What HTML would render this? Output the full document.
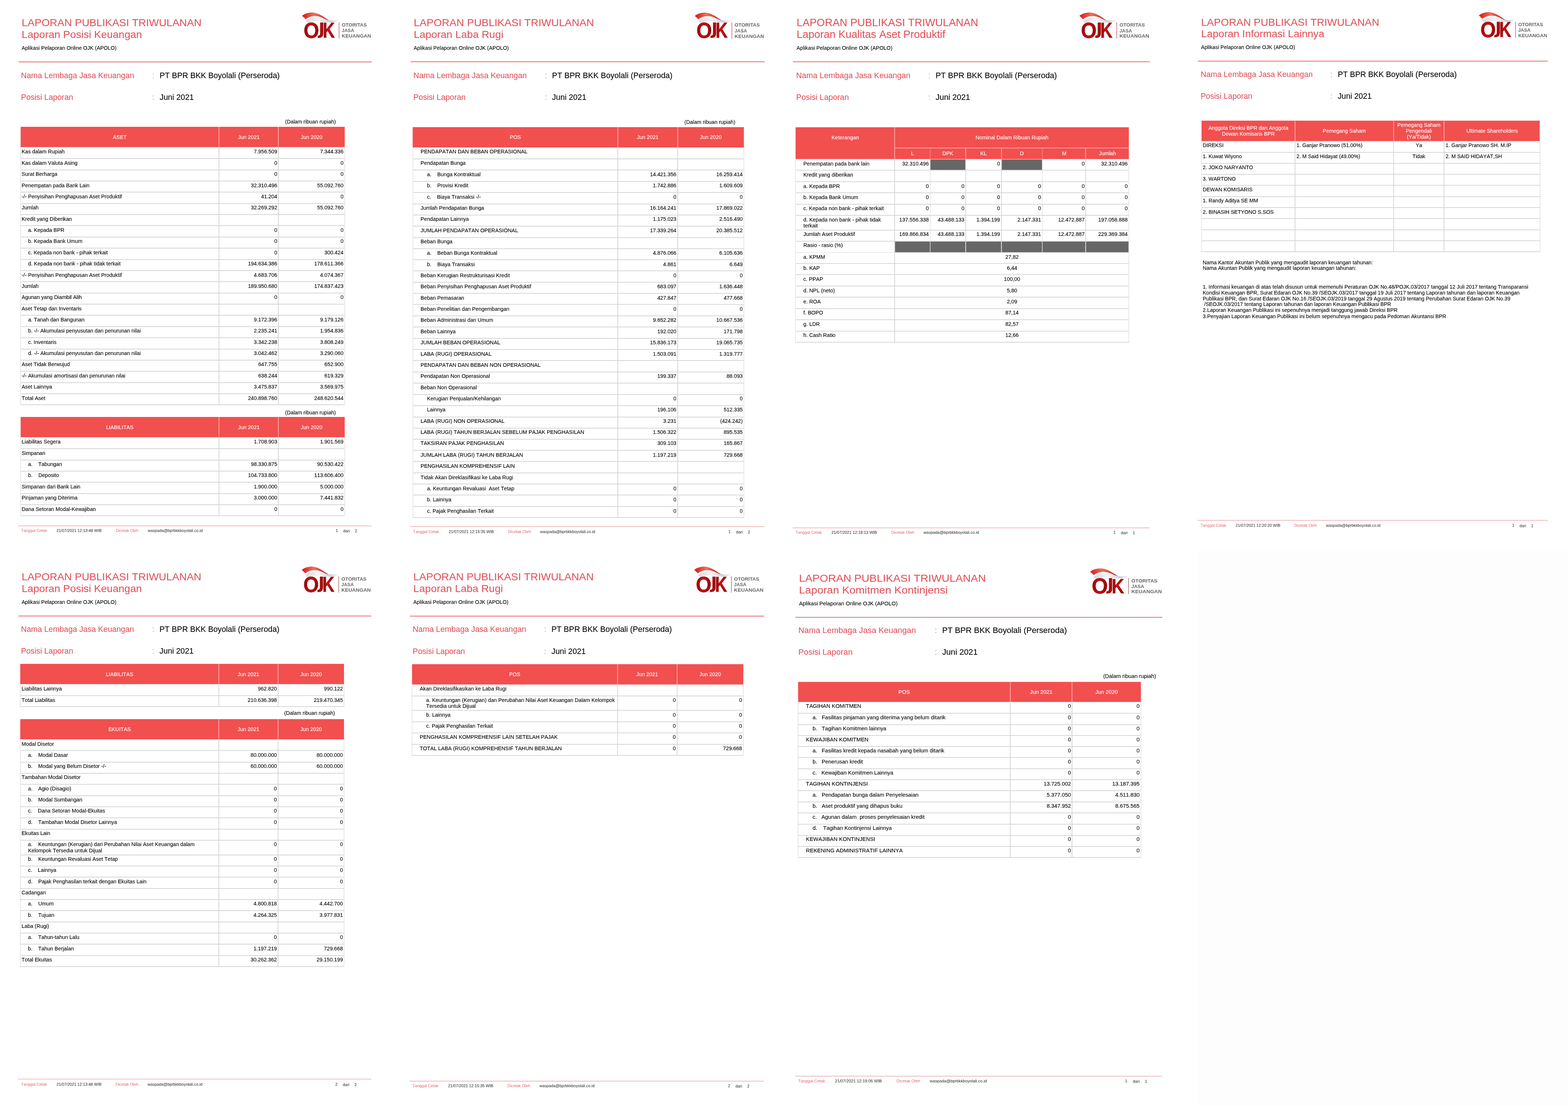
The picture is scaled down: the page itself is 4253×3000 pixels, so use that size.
<!DOCTYPE html>
<html lang="id"><head><meta charset="utf-8"><title>Laporan Publikasi Triwulanan</title>
<style>
html,body{margin:0;padding:0;background:#fff;width:4253px;height:3000px}
body{position:relative;overflow:hidden;font-family:"Liberation Sans",sans-serif}
.p{position:absolute;left:0;top:0;width:1020px;height:1460px;transform-origin:0 0}
.p div,.logo{position:absolute}
.t{white-space:pre;line-height:1em;color:#000;font-kerning:none;font-variant-ligatures:none;-webkit-text-stroke:0.12px currentColor}
.r{width:400px;text-align:right}
.c{width:400px;text-align:center}
.h1{font-size:28.5px;color:#e2535b}
.lb{font-size:21.4px;color:#e2535b}
.v{font-size:21.4px;color:#000}
.s8{font-size:14.25px}
.th{font-size:14.25px;color:#fff}
.f6{font-size:10.8px;color:#1c1c1c;-webkit-text-stroke:0}
.cl{color:#e8949a}
.f6.fr{color:#e0666d}
</style></head>
<body>
<div class="bg" style="position:absolute;left:3247px;top:1495px;width:1006px;height:1505px;background:#fdfdfd"></div>
<section class="p" style="transform:matrix(1,0,0,1,0,0)">
<div class="t h1" style="left:58.8px;top:46.57px">LAPORAN PUBLIKASI TRIWULANAN</div>
<div class="t h1" style="left:58.8px;top:79.07px">Laporan Posisi Keuangan</div>
<div class="t s8" style="left:58.7px;top:122.84px">Aplikasi Pelaporan Online OJK (APOLO)</div>
<svg class="logo" style="left:818px;top:21px" width="200" height="100" viewBox="0 0 200 100">
<defs>
<linearGradient id="gr1" x1="0" y1="0" x2="1" y2="0"><stop offset="0" stop-color="#d81818"/><stop offset=".45" stop-color="#f0705a"/><stop offset="1" stop-color="#c41a1a"/></linearGradient>
<linearGradient id="gs1" x1="0" y1="0" x2="1" y2="0"><stop offset="0" stop-color="#d9d9dc"/><stop offset=".4" stop-color="#f4f4f6"/><stop offset=".75" stop-color="#cfd3da"/><stop offset="1" stop-color="#f2f2f2"/></linearGradient>
<linearGradient id="gl1" x1="0" y1="0" x2="1" y2="0"><stop offset="0" stop-color="#8e0b0d"/><stop offset=".5" stop-color="#c81015"/><stop offset="1" stop-color="#860a0c"/></linearGradient>
</defs>
<path d="M11 36 C20 28.5 31 26 40 26.5 C50 27 62 30 73 32.5 C85 35 93 35 101 32.5 C96 37.5 88 40.5 80 40.5 C68 40.5 55 37 42 37 C32 37 25 41 21 47 C18 43 14 39 11 36 Z" fill="url(#gs1)"/>
<path d="M1.2 22 C11 14 24 12 34 13.5 C49 16 61 25.5 74 34.5 C63 31.5 55 25 43 23 C31 21 20 24 10.7 31.2 C8 28 5 25 1.2 22 Z" fill="url(#gr1)"/>
<text x="5.6" y="81.8" font-family="Liberation Sans, sans-serif" font-weight="700" font-size="59.5" fill="url(#gl1)" stroke="#a30e10" stroke-width="0.8" textLength="42.1" lengthAdjust="spacingAndGlyphs">O</text>
<text x="46.3" y="73" font-family="DejaVu Sans, sans-serif" font-weight="700" font-size="45" fill="#a60e11">J</text>
<text x="57.5" y="80.9" font-family="Liberation Sans, sans-serif" font-weight="700" font-size="57" fill="url(#gl1)" stroke="#a30e10" stroke-width="0.8" textLength="32.6" lengthAdjust="spacingAndGlyphs">K</text>
<rect x="100.9" y="39.2" width="1.4" height="44.2" fill="#a85a5c"/>
<g font-family="Liberation Sans, sans-serif" font-weight="700" font-size="12.7" fill="#666">
<text x="109" y="51.1" textLength="68" lengthAdjust="spacingAndGlyphs">OTORITAS</text>
<text x="109" y="66.3" textLength="33.5" lengthAdjust="spacingAndGlyphs">JASA</text>
<text x="109" y="81.2" textLength="79.5" lengthAdjust="spacingAndGlyphs">KEUANGAN</text>
</g></svg>
<div class="g" style="left:50px;top:167px;width:958.2px;height:2px;background:#e5656b"></div>
<div class="t lb" style="left:57px;top:194.68px">Nama Lembaga Jasa Keuangan</div>
<div class="t lb cl" style="left:412.6px;top:194.68px">:</div>
<div class="t v" style="left:433px;top:194.68px">PT BPR BKK Boyolali (Perseroda)</div>
<div class="t lb" style="left:57px;top:254.18px">Posisi Laporan</div>
<div class="t lb cl" style="left:412.6px;top:254.18px">:</div>
<div class="t v" style="left:433px;top:254.18px">Juni 2021</div>
<div class="t s8 r" style="left:511px;top:322.64px">(Dalam ribuan rupiah)</div>
<div class="b" style="left:55.6px;top:343.9px;width:879.4px;height:55.4px;background:#f24f4f"></div>
<div class="t th c" style="left:124.9px;top:364.64px">ASET</div>
<div class="t th c" style="left:474.75px;top:364.64px">Jun 2021</div>
<div class="t th c" style="left:645.15px;top:364.64px">Jun 2020</div>
<div class="g" style="left:593px;top:343.9px;width:2px;height:55.4px;background:#fbaaa7"></div>
<div class="g" style="left:754px;top:343.9px;width:2px;height:55.4px;background:#fbaaa7"></div>
<div class="t s8" style="left:58.8px;top:403.84px">Kas dalam Rupiah</div>
<div class="t s8 r" style="left:351.9px;top:403.84px">7.956.509</div>
<div class="t s8 r" style="left:531.6px;top:403.84px">7.344.336</div>
<div class="t s8" style="left:58.8px;top:434.81px">Kas dalam Valuta Asing</div>
<div class="t s8 r" style="left:351.9px;top:434.81px">0</div>
<div class="t s8 r" style="left:531.6px;top:434.81px">0</div>
<div class="t s8" style="left:58.8px;top:465.18px">Surat Berharga</div>
<div class="t s8 r" style="left:351.9px;top:465.18px">0</div>
<div class="t s8 r" style="left:531.6px;top:465.18px">0</div>
<div class="t s8" style="left:58.8px;top:495.55px">Penempatan pada Bank Lain</div>
<div class="t s8 r" style="left:351.9px;top:495.55px">32.310.496</div>
<div class="t s8 r" style="left:531.6px;top:495.55px">55.092.760</div>
<div class="t s8" style="left:58.8px;top:525.92px">-/- Penyisihan Penghapusan Aset Produktif</div>
<div class="t s8 r" style="left:351.9px;top:525.92px">41.204</div>
<div class="t s8 r" style="left:531.6px;top:525.92px">0</div>
<div class="t s8" style="left:58.8px;top:556.29px">Jumlah</div>
<div class="t s8 r" style="left:351.9px;top:556.29px">32.269.292</div>
<div class="t s8 r" style="left:531.6px;top:556.29px">55.092.760</div>
<div class="t s8" style="left:58.8px;top:586.66px">Kredit yang Diberikan</div>
<div class="t s8" style="left:76.2px;top:617.03px">a. Kepada BPR</div>
<div class="t s8 r" style="left:351.9px;top:617.03px">0</div>
<div class="t s8 r" style="left:531.6px;top:617.03px">0</div>
<div class="t s8" style="left:76.2px;top:647.4px">b. Kepada Bank Umum</div>
<div class="t s8 r" style="left:351.9px;top:647.4px">0</div>
<div class="t s8 r" style="left:531.6px;top:647.4px">0</div>
<div class="t s8" style="left:76.2px;top:677.77px">c. Kepada non bank - pihak terkait</div>
<div class="t s8 r" style="left:351.9px;top:677.77px">0</div>
<div class="t s8 r" style="left:531.6px;top:677.77px">300.424</div>
<div class="t s8" style="left:76.2px;top:708.14px">d. Kepada non bank - pihak tidak terkait</div>
<div class="t s8 r" style="left:351.9px;top:708.14px">194.634.386</div>
<div class="t s8 r" style="left:531.6px;top:708.14px">178.611.366</div>
<div class="t s8" style="left:58.8px;top:738.51px">-/- Penyisihan Penghapusan Aset Produktif</div>
<div class="t s8 r" style="left:351.9px;top:738.51px">4.683.706</div>
<div class="t s8 r" style="left:531.6px;top:738.51px">4.074.367</div>
<div class="t s8" style="left:58.8px;top:768.88px">Jumlah</div>
<div class="t s8 r" style="left:351.9px;top:768.88px">189.950.680</div>
<div class="t s8 r" style="left:531.6px;top:768.88px">174.837.423</div>
<div class="t s8" style="left:58.8px;top:799.25px">Agunan yang Diambil Alih</div>
<div class="t s8 r" style="left:351.9px;top:799.25px">0</div>
<div class="t s8 r" style="left:531.6px;top:799.25px">0</div>
<div class="t s8" style="left:58.8px;top:829.62px">Aset Tetap dan Inventaris</div>
<div class="t s8" style="left:76.2px;top:859.99px">a. Tanah dan Bangunan</div>
<div class="t s8 r" style="left:351.9px;top:859.99px">9.172.396</div>
<div class="t s8 r" style="left:531.6px;top:859.99px">9.179.126</div>
<div class="t s8" style="left:76.2px;top:890.36px">b. -/- Akumulasi penyusutan dan penurunan nilai</div>
<div class="t s8 r" style="left:351.9px;top:890.36px">2.235.241</div>
<div class="t s8 r" style="left:531.6px;top:890.36px">1.954.836</div>
<div class="t s8" style="left:76.2px;top:920.73px">c. Inventaris</div>
<div class="t s8 r" style="left:351.9px;top:920.73px">3.342.238</div>
<div class="t s8 r" style="left:531.6px;top:920.73px">3.808.249</div>
<div class="t s8" style="left:76.2px;top:951.1px">d. -/- Akumulasi penyusutan dan penurunan nilai</div>
<div class="t s8 r" style="left:351.9px;top:951.1px">3.042.462</div>
<div class="t s8 r" style="left:531.6px;top:951.1px">3.290.060</div>
<div class="t s8" style="left:58.8px;top:981.47px">Aset Tidak Berwujud</div>
<div class="t s8 r" style="left:351.9px;top:981.47px">647.755</div>
<div class="t s8 r" style="left:531.6px;top:981.47px">652.900</div>
<div class="t s8" style="left:58.8px;top:1011.84px">-/- Akumulasi amortisasi dan penurunan nilai</div>
<div class="t s8 r" style="left:351.9px;top:1011.84px">638.244</div>
<div class="t s8 r" style="left:531.6px;top:1011.84px">619.329</div>
<div class="t s8" style="left:58.8px;top:1042.21px">Aset Lainnya</div>
<div class="t s8 r" style="left:351.9px;top:1042.21px">3.475.837</div>
<div class="t s8 r" style="left:531.6px;top:1042.21px">3.569.975</div>
<div class="t s8" style="left:58.8px;top:1072.58px">Total Aset</div>
<div class="t s8 r" style="left:351.9px;top:1072.58px">240.898.760</div>
<div class="t s8 r" style="left:531.6px;top:1072.58px">248.620.544</div>
<div class="g" style="left:55px;top:429px;width:881px;height:2px;background:#d4d4d4"></div>
<div class="g" style="left:55px;top:460px;width:881px;height:2px;background:#d4d4d4"></div>
<div class="g" style="left:55px;top:490px;width:881px;height:2px;background:#d4d4d4"></div>
<div class="g" style="left:55px;top:520px;width:881px;height:2px;background:#d4d4d4"></div>
<div class="g" style="left:55px;top:551px;width:881px;height:2px;background:#d4d4d4"></div>
<div class="g" style="left:55px;top:581px;width:881px;height:2px;background:#d4d4d4"></div>
<div class="g" style="left:55px;top:611px;width:881px;height:2px;background:#d4d4d4"></div>
<div class="g" style="left:55px;top:642px;width:881px;height:2px;background:#d4d4d4"></div>
<div class="g" style="left:55px;top:672px;width:881px;height:2px;background:#d4d4d4"></div>
<div class="g" style="left:55px;top:703px;width:881px;height:2px;background:#d4d4d4"></div>
<div class="g" style="left:55px;top:733px;width:881px;height:2px;background:#d4d4d4"></div>
<div class="g" style="left:55px;top:763px;width:881px;height:2px;background:#d4d4d4"></div>
<div class="g" style="left:55px;top:794px;width:881px;height:2px;background:#d4d4d4"></div>
<div class="g" style="left:55px;top:824px;width:881px;height:2px;background:#d4d4d4"></div>
<div class="g" style="left:55px;top:854px;width:881px;height:2px;background:#d4d4d4"></div>
<div class="g" style="left:55px;top:885px;width:881px;height:2px;background:#d4d4d4"></div>
<div class="g" style="left:55px;top:915px;width:881px;height:2px;background:#d4d4d4"></div>
<div class="g" style="left:55px;top:946px;width:881px;height:2px;background:#d4d4d4"></div>
<div class="g" style="left:55px;top:976px;width:881px;height:2px;background:#d4d4d4"></div>
<div class="g" style="left:55px;top:1006px;width:881px;height:2px;background:#d4d4d4"></div>
<div class="g" style="left:55px;top:1037px;width:881px;height:2px;background:#d4d4d4"></div>
<div class="g" style="left:55px;top:1067px;width:881px;height:2px;background:#d4d4d4"></div>
<div class="g" style="left:55px;top:1097px;width:881px;height:2px;background:#d4d4d4"></div>
<div class="g" style="left:55px;top:399.3px;width:2px;height:699.7px;background:#e6e6e6"></div>
<div class="g" style="left:593px;top:399.3px;width:2px;height:698.7px;background:#d4d4d4"></div>
<div class="g" style="left:754px;top:399.3px;width:2px;height:698.7px;background:#d4d4d4"></div>
<div class="g" style="left:934px;top:399.3px;width:2px;height:699.7px;background:#e6e6e6"></div>
<div class="t s8 r" style="left:511px;top:1111.84px">(Dalam ribuan rupiah)</div>
<div class="b" style="left:55.6px;top:1130.8px;width:879.4px;height:55.4px;background:#f24f4f"></div>
<div class="t th c" style="left:124.9px;top:1151.54px">LIABILITAS</div>
<div class="t th c" style="left:474.75px;top:1151.54px">Jun 2021</div>
<div class="t th c" style="left:645.15px;top:1151.54px">Jun 2020</div>
<div class="g" style="left:593px;top:1130.8px;width:2px;height:55.4px;background:#fbaaa7"></div>
<div class="g" style="left:754px;top:1130.8px;width:2px;height:55.4px;background:#fbaaa7"></div>
<div class="t s8" style="left:58.8px;top:1190.74px">Liabilitas Segera</div>
<div class="t s8 r" style="left:351.9px;top:1190.74px">1.708.903</div>
<div class="t s8 r" style="left:531.6px;top:1190.74px">1.901.569</div>
<div class="t s8" style="left:58.8px;top:1221.71px">Simpanan</div>
<div class="t s8" style="left:76.2px;top:1252.08px">a.    Tabungan</div>
<div class="t s8 r" style="left:351.9px;top:1252.08px">98.330.875</div>
<div class="t s8 r" style="left:531.6px;top:1252.08px">90.530.422</div>
<div class="t s8" style="left:76.2px;top:1282.45px">b.    Deposito</div>
<div class="t s8 r" style="left:351.9px;top:1282.45px">104.733.800</div>
<div class="t s8 r" style="left:531.6px;top:1282.45px">113.606.400</div>
<div class="t s8" style="left:58.8px;top:1312.82px">Simpanan dari Bank Lain</div>
<div class="t s8 r" style="left:351.9px;top:1312.82px">1.900.000</div>
<div class="t s8 r" style="left:531.6px;top:1312.82px">5.000.000</div>
<div class="t s8" style="left:58.8px;top:1343.19px">Pinjaman yang Diterima</div>
<div class="t s8 r" style="left:351.9px;top:1343.19px">3.000.000</div>
<div class="t s8 r" style="left:531.6px;top:1343.19px">7.441.832</div>
<div class="t s8" style="left:58.8px;top:1373.56px">Dana Setoran Modal-Kewajiban</div>
<div class="t s8 r" style="left:351.9px;top:1373.56px">0</div>
<div class="t s8 r" style="left:531.6px;top:1373.56px">0</div>
<div class="g" style="left:55px;top:1216px;width:881px;height:2px;background:#d4d4d4"></div>
<div class="g" style="left:55px;top:1247px;width:881px;height:2px;background:#d4d4d4"></div>
<div class="g" style="left:55px;top:1277px;width:881px;height:2px;background:#d4d4d4"></div>
<div class="g" style="left:55px;top:1307px;width:881px;height:2px;background:#d4d4d4"></div>
<div class="g" style="left:55px;top:1338px;width:881px;height:2px;background:#d4d4d4"></div>
<div class="g" style="left:55px;top:1368px;width:881px;height:2px;background:#d4d4d4"></div>
<div class="g" style="left:55px;top:1398px;width:881px;height:2px;background:#d4d4d4"></div>
<div class="g" style="left:55px;top:1186.2px;width:2px;height:213.8px;background:#e6e6e6"></div>
<div class="g" style="left:593px;top:1186.2px;width:2px;height:212.8px;background:#d4d4d4"></div>
<div class="g" style="left:754px;top:1186.2px;width:2px;height:212.8px;background:#d4d4d4"></div>
<div class="g" style="left:934px;top:1186.2px;width:2px;height:213.8px;background:#e6e6e6"></div>
<div class="g" style="left:48.5px;top:1426px;width:959.7px;height:1px;background:#e4747a"></div>
<div class="t f6 fr" style="left:57.2px;top:1434.06px">Tanggal Cetak</div>
<div class="t f6" style="left:153.3px;top:1434.06px">21/07/2021 12:13:48 WIB</div>
<div class="t f6 fr" style="left:314px;top:1434.06px">Dicetak Oleh</div>
<div class="t f6" style="left:400.7px;top:1434.06px">waspada@bprbkkboyolali.co.id</div>
<div class="t f6" style="left:910.5px;top:1434.06px">1</div>
<div class="t f6" style="left:930.7px;top:1435.06px">dari</div>
<div class="t f6" style="left:962.5px;top:1435.06px">2</div>
</section>
<section class="p" style="transform:matrix(1.0026,0,0,1.0019,1063.2,0.2)">
<div class="t h1" style="left:58.8px;top:46.57px">LAPORAN PUBLIKASI TRIWULANAN</div>
<div class="t h1" style="left:58.8px;top:79.07px">Laporan Laba Rugi</div>
<div class="t s8" style="left:58.7px;top:122.84px">Aplikasi Pelaporan Online OJK (APOLO)</div>
<svg class="logo" style="left:818px;top:21px" width="200" height="100" viewBox="0 0 200 100">
<defs>
<linearGradient id="gr2" x1="0" y1="0" x2="1" y2="0"><stop offset="0" stop-color="#d81818"/><stop offset=".45" stop-color="#f0705a"/><stop offset="1" stop-color="#c41a1a"/></linearGradient>
<linearGradient id="gs2" x1="0" y1="0" x2="1" y2="0"><stop offset="0" stop-color="#d9d9dc"/><stop offset=".4" stop-color="#f4f4f6"/><stop offset=".75" stop-color="#cfd3da"/><stop offset="1" stop-color="#f2f2f2"/></linearGradient>
<linearGradient id="gl2" x1="0" y1="0" x2="1" y2="0"><stop offset="0" stop-color="#8e0b0d"/><stop offset=".5" stop-color="#c81015"/><stop offset="1" stop-color="#860a0c"/></linearGradient>
</defs>
<path d="M11 36 C20 28.5 31 26 40 26.5 C50 27 62 30 73 32.5 C85 35 93 35 101 32.5 C96 37.5 88 40.5 80 40.5 C68 40.5 55 37 42 37 C32 37 25 41 21 47 C18 43 14 39 11 36 Z" fill="url(#gs2)"/>
<path d="M1.2 22 C11 14 24 12 34 13.5 C49 16 61 25.5 74 34.5 C63 31.5 55 25 43 23 C31 21 20 24 10.7 31.2 C8 28 5 25 1.2 22 Z" fill="url(#gr2)"/>
<text x="5.6" y="81.8" font-family="Liberation Sans, sans-serif" font-weight="700" font-size="59.5" fill="url(#gl2)" stroke="#a30e10" stroke-width="0.8" textLength="42.1" lengthAdjust="spacingAndGlyphs">O</text>
<text x="46.3" y="73" font-family="DejaVu Sans, sans-serif" font-weight="700" font-size="45" fill="#a60e11">J</text>
<text x="57.5" y="80.9" font-family="Liberation Sans, sans-serif" font-weight="700" font-size="57" fill="url(#gl2)" stroke="#a30e10" stroke-width="0.8" textLength="32.6" lengthAdjust="spacingAndGlyphs">K</text>
<rect x="100.9" y="39.2" width="1.4" height="44.2" fill="#a85a5c"/>
<g font-family="Liberation Sans, sans-serif" font-weight="700" font-size="12.7" fill="#666">
<text x="109" y="51.1" textLength="68" lengthAdjust="spacingAndGlyphs">OTORITAS</text>
<text x="109" y="66.3" textLength="33.5" lengthAdjust="spacingAndGlyphs">JASA</text>
<text x="109" y="81.2" textLength="79.5" lengthAdjust="spacingAndGlyphs">KEUANGAN</text>
</g></svg>
<div class="g" style="left:50px;top:166.48px;width:958.2px;height:2px;background:#e5656b"></div>
<div class="t lb" style="left:57.8px;top:193.58px">Nama Lembaga Jasa Keuangan</div>
<div class="t lb cl" style="left:413.5px;top:193.58px">:</div>
<div class="t v" style="left:433px;top:193.58px">PT BPR BKK Boyolali (Perseroda)</div>
<div class="t lb" style="left:57.8px;top:253.48px">Posisi Laporan</div>
<div class="t lb cl" style="left:413.5px;top:253.48px">:</div>
<div class="t v" style="left:433px;top:253.48px">Juni 2021</div>
<div class="t s8 r" style="left:528.79px;top:322.7px">(Dalam ribuan rupiah)</div>
<div class="b" style="left:56.25px;top:343.55px;width:896.07px;height:55.4px;background:#f24f4f"></div>
<div class="t th c" style="left:133.68px;top:364.29px">POS</div>
<div class="t th c" style="left:491.95px;top:364.29px">Jun 2021</div>
<div class="t th c" style="left:662.56px;top:364.29px">Jun 2020</div>
<div class="g" style="left:610.21px;top:343.55px;width:1.99px;height:55.4px;background:#fbaaa7"></div>
<div class="g" style="left:771.79px;top:343.55px;width:1.99px;height:55.4px;background:#fbaaa7"></div>
<div class="t s8" style="left:77.3px;top:403.49px">PENDAPATAN DAN BEBAN OPERASIONAL</div>
<div class="t s8" style="left:77.3px;top:434.45px">Pendapatan Bunga</div>
<div class="t s8" style="left:94.8px;top:464.81px">a.    Bunga Kontraktual</div>
<div class="t s8 r" style="left:369.39px;top:464.81px">14.421.356</div>
<div class="t s8 r" style="left:548.92px;top:464.81px">16.259.414</div>
<div class="t s8" style="left:94.8px;top:495.17px">b.    Provisi Kredit</div>
<div class="t s8 r" style="left:369.39px;top:495.17px">1.742.886</div>
<div class="t s8 r" style="left:548.92px;top:495.17px">1.609.609</div>
<div class="t s8" style="left:94.8px;top:525.53px">c.    Biaya Transaksi -/-</div>
<div class="t s8 r" style="left:369.39px;top:525.53px">0</div>
<div class="t s8 r" style="left:548.92px;top:525.53px">0</div>
<div class="t s8" style="left:77.3px;top:555.89px">Jumlah Pendapatan Bunga</div>
<div class="t s8 r" style="left:369.39px;top:555.89px">16.164.241</div>
<div class="t s8 r" style="left:548.92px;top:555.89px">17.869.022</div>
<div class="t s8" style="left:77.3px;top:586.25px">Pendapatan Lainnya</div>
<div class="t s8 r" style="left:369.39px;top:586.25px">1.175.023</div>
<div class="t s8 r" style="left:548.92px;top:586.25px">2.516.490</div>
<div class="t s8" style="left:77.3px;top:616.61px">JUMLAH PENDAPATAN OPERASIONAL</div>
<div class="t s8 r" style="left:369.39px;top:616.61px">17.339.264</div>
<div class="t s8 r" style="left:548.92px;top:616.61px">20.385.512</div>
<div class="t s8" style="left:77.3px;top:646.97px">Beban Bunga</div>
<div class="t s8" style="left:94.8px;top:677.33px">a.    Beban Bunga Kontraktual</div>
<div class="t s8 r" style="left:369.39px;top:677.33px">4.876.066</div>
<div class="t s8 r" style="left:548.92px;top:677.33px">6.105.636</div>
<div class="t s8" style="left:94.8px;top:707.69px">b.    Biaya Transaksi</div>
<div class="t s8 r" style="left:369.39px;top:707.69px">4.861</div>
<div class="t s8 r" style="left:548.92px;top:707.69px">6.649</div>
<div class="t s8" style="left:77.3px;top:738.05px">Beban Kerugian Restrukturisasi Kredit</div>
<div class="t s8 r" style="left:369.39px;top:738.05px">0</div>
<div class="t s8 r" style="left:548.92px;top:738.05px">0</div>
<div class="t s8" style="left:77.3px;top:768.41px">Beban Penyisihan Penghapusan Aset Produktif</div>
<div class="t s8 r" style="left:369.39px;top:768.41px">683.097</div>
<div class="t s8 r" style="left:548.92px;top:768.41px">1.636.448</div>
<div class="t s8" style="left:77.3px;top:798.77px">Beban Pemasaran</div>
<div class="t s8 r" style="left:369.39px;top:798.77px">427.847</div>
<div class="t s8 r" style="left:548.92px;top:798.77px">477.668</div>
<div class="t s8" style="left:77.3px;top:829.13px">Beban Penelitian dan Pengembangan</div>
<div class="t s8 r" style="left:369.39px;top:829.13px">0</div>
<div class="t s8 r" style="left:548.92px;top:829.13px">0</div>
<div class="t s8" style="left:77.3px;top:859.49px">Beban Administrasi dan Umum</div>
<div class="t s8 r" style="left:369.39px;top:859.49px">9.652.282</div>
<div class="t s8 r" style="left:548.92px;top:859.49px">10.667.536</div>
<div class="t s8" style="left:77.3px;top:889.85px">Beban Lainnya</div>
<div class="t s8 r" style="left:369.39px;top:889.85px">192.020</div>
<div class="t s8 r" style="left:548.92px;top:889.85px">171.798</div>
<div class="t s8" style="left:77.3px;top:920.21px">JUMLAH BEBAN OPERASIONAL</div>
<div class="t s8 r" style="left:369.39px;top:920.21px">15.836.173</div>
<div class="t s8 r" style="left:548.92px;top:920.21px">19.065.735</div>
<div class="t s8" style="left:77.3px;top:950.57px">LABA (RUGI) OPERASIONAL</div>
<div class="t s8 r" style="left:369.39px;top:950.57px">1.503.091</div>
<div class="t s8 r" style="left:548.92px;top:950.57px">1.319.777</div>
<div class="t s8" style="left:77.3px;top:980.93px">PENDAPATAN DAN BEBAN NON OPERASIONAL</div>
<div class="t s8" style="left:77.3px;top:1011.29px">Pendapatan Non Operasional</div>
<div class="t s8 r" style="left:369.39px;top:1011.29px">199.337</div>
<div class="t s8 r" style="left:548.92px;top:1011.29px">88.093</div>
<div class="t s8" style="left:77.3px;top:1041.65px">Beban Non Operasional</div>
<div class="t s8" style="left:94.8px;top:1072.01px">Kerugian Penjualan/Kehilangan</div>
<div class="t s8 r" style="left:369.39px;top:1072.01px">0</div>
<div class="t s8 r" style="left:548.92px;top:1072.01px">0</div>
<div class="t s8" style="left:94.8px;top:1102.37px">Lainnya</div>
<div class="t s8 r" style="left:369.39px;top:1102.37px">196.106</div>
<div class="t s8 r" style="left:548.92px;top:1102.37px">512.335</div>
<div class="t s8" style="left:77.3px;top:1132.73px">LABA (RUGI) NON OPERASIONAL</div>
<div class="t s8 r" style="left:369.39px;top:1132.73px">3.231</div>
<div class="t s8 r" style="left:548.92px;top:1132.73px">(424.242)</div>
<div class="t s8" style="left:77.3px;top:1163.09px">LABA (RUGI) TAHUN BERJALAN SEBELUM PAJAK PENGHASILAN</div>
<div class="t s8 r" style="left:369.39px;top:1163.09px">1.506.322</div>
<div class="t s8 r" style="left:548.92px;top:1163.09px">895.535</div>
<div class="t s8" style="left:77.3px;top:1193.45px">TAKSIRAN PAJAK PENGHASILAN</div>
<div class="t s8 r" style="left:369.39px;top:1193.45px">309.103</div>
<div class="t s8 r" style="left:548.92px;top:1193.45px">165.867</div>
<div class="t s8" style="left:77.3px;top:1223.81px">JUMLAH LABA (RUGI) TAHUN BERJALAN</div>
<div class="t s8 r" style="left:369.39px;top:1223.81px">1.197.219</div>
<div class="t s8 r" style="left:548.92px;top:1223.81px">729.668</div>
<div class="t s8" style="left:77.3px;top:1254.17px">PENGHASILAN KOMPREHENSIF LAIN</div>
<div class="t s8" style="left:77.3px;top:1284.53px">Tidak Akan Direklasifikasi ke Laba Rugi</div>
<div class="t s8" style="left:94.8px;top:1314.89px">a. Keuntungan Revaluasi  Aset Tetap</div>
<div class="t s8 r" style="left:369.39px;top:1314.89px">0</div>
<div class="t s8 r" style="left:548.92px;top:1314.89px">0</div>
<div class="t s8" style="left:94.8px;top:1345.25px">b. Lainnya</div>
<div class="t s8 r" style="left:369.39px;top:1345.25px">0</div>
<div class="t s8 r" style="left:548.92px;top:1345.25px">0</div>
<div class="t s8" style="left:94.8px;top:1375.61px">c. Pajak Penghasilan Terkait</div>
<div class="t s8 r" style="left:369.39px;top:1375.61px">0</div>
<div class="t s8 r" style="left:548.92px;top:1375.61px">0</div>
<div class="g" style="left:55.66px;top:428.98px;width:897.67px;height:2px;background:#d4d4d4"></div>
<div class="g" style="left:55.66px;top:458.93px;width:897.67px;height:2px;background:#d4d4d4"></div>
<div class="g" style="left:55.66px;top:489.87px;width:897.67px;height:2px;background:#d4d4d4"></div>
<div class="g" style="left:55.66px;top:519.81px;width:897.67px;height:2px;background:#d4d4d4"></div>
<div class="g" style="left:55.66px;top:550.75px;width:897.67px;height:2px;background:#d4d4d4"></div>
<div class="g" style="left:55.66px;top:580.7px;width:897.67px;height:2px;background:#d4d4d4"></div>
<div class="g" style="left:55.66px;top:610.64px;width:897.67px;height:2px;background:#d4d4d4"></div>
<div class="g" style="left:55.66px;top:641.58px;width:897.67px;height:2px;background:#d4d4d4"></div>
<div class="g" style="left:55.66px;top:671.52px;width:897.67px;height:2px;background:#d4d4d4"></div>
<div class="g" style="left:55.66px;top:702.47px;width:897.67px;height:2px;background:#d4d4d4"></div>
<div class="g" style="left:55.66px;top:732.41px;width:897.67px;height:2px;background:#d4d4d4"></div>
<div class="g" style="left:55.66px;top:763.35px;width:897.67px;height:2px;background:#d4d4d4"></div>
<div class="g" style="left:55.66px;top:793.29px;width:897.67px;height:2px;background:#d4d4d4"></div>
<div class="g" style="left:55.66px;top:823.24px;width:897.67px;height:2px;background:#d4d4d4"></div>
<div class="g" style="left:55.66px;top:854.18px;width:897.67px;height:2px;background:#d4d4d4"></div>
<div class="g" style="left:55.66px;top:884.12px;width:897.67px;height:2px;background:#d4d4d4"></div>
<div class="g" style="left:55.66px;top:915.06px;width:897.67px;height:2px;background:#d4d4d4"></div>
<div class="g" style="left:55.66px;top:945px;width:897.67px;height:2px;background:#d4d4d4"></div>
<div class="g" style="left:55.66px;top:974.95px;width:897.67px;height:2px;background:#d4d4d4"></div>
<div class="g" style="left:55.66px;top:1005.89px;width:897.67px;height:2px;background:#d4d4d4"></div>
<div class="g" style="left:55.66px;top:1035.83px;width:897.67px;height:2px;background:#d4d4d4"></div>
<div class="g" style="left:55.66px;top:1066.77px;width:897.67px;height:2px;background:#d4d4d4"></div>
<div class="g" style="left:55.66px;top:1096.72px;width:897.67px;height:2px;background:#d4d4d4"></div>
<div class="g" style="left:55.66px;top:1127.66px;width:897.67px;height:2px;background:#d4d4d4"></div>
<div class="g" style="left:55.66px;top:1157.6px;width:897.67px;height:2px;background:#d4d4d4"></div>
<div class="g" style="left:55.66px;top:1187.54px;width:897.67px;height:2px;background:#d4d4d4"></div>
<div class="g" style="left:55.66px;top:1218.48px;width:897.67px;height:2px;background:#d4d4d4"></div>
<div class="g" style="left:55.66px;top:1248.43px;width:897.67px;height:2px;background:#d4d4d4"></div>
<div class="g" style="left:55.66px;top:1279.37px;width:897.67px;height:2px;background:#d4d4d4"></div>
<div class="g" style="left:55.66px;top:1309.31px;width:897.67px;height:2px;background:#d4d4d4"></div>
<div class="g" style="left:55.66px;top:1339.26px;width:897.67px;height:2px;background:#d4d4d4"></div>
<div class="g" style="left:55.66px;top:1370.2px;width:897.67px;height:2px;background:#d4d4d4"></div>
<div class="g" style="left:55.66px;top:1400.14px;width:897.67px;height:2px;background:#d4d4d4"></div>
<div class="g" style="left:55.66px;top:398.95px;width:1.99px;height:1003.19px;background:#e6e6e6"></div>
<div class="g" style="left:610.21px;top:398.95px;width:1.99px;height:1002.19px;background:#d4d4d4"></div>
<div class="g" style="left:771.79px;top:398.95px;width:1.99px;height:1002.19px;background:#d4d4d4"></div>
<div class="g" style="left:951.33px;top:398.95px;width:1.99px;height:1003.19px;background:#e6e6e6"></div>
<div class="g" style="left:48.5px;top:1425.09px;width:959.7px;height:1px;background:#e4747a"></div>
<div class="t f6 fr" style="left:57.2px;top:1434.05px">Tanggal Cetak</div>
<div class="t f6" style="left:153.3px;top:1434.05px">21/07/2021 12:15:35 WIB</div>
<div class="t f6 fr" style="left:314px;top:1434.05px">Dicetak Oleh</div>
<div class="t f6" style="left:400.7px;top:1434.05px">waspada@bprbkkboyolali.co.id</div>
<div class="t f6" style="left:910.5px;top:1434.05px">1</div>
<div class="t f6" style="left:930.7px;top:1435.05px">dari</div>
<div class="t f6" style="left:962.5px;top:1435.05px">2</div>
</section>
<section class="p" style="transform:matrix(1.01,0,0,1.0038,2100.3,-0.1)">
<div class="t h1" style="left:59.8px;top:46.57px">LAPORAN PUBLIKASI TRIWULANAN</div>
<div class="t h1" style="left:59.8px;top:79.07px">Laporan Kualitas Aset Produktif</div>
<div class="t s8" style="left:59.7px;top:122.84px">Aplikasi Pelaporan Online OJK (APOLO)</div>
<svg class="logo" style="left:818px;top:21px" width="200" height="100" viewBox="0 0 200 100">
<defs>
<linearGradient id="gr3" x1="0" y1="0" x2="1" y2="0"><stop offset="0" stop-color="#d81818"/><stop offset=".45" stop-color="#f0705a"/><stop offset="1" stop-color="#c41a1a"/></linearGradient>
<linearGradient id="gs3" x1="0" y1="0" x2="1" y2="0"><stop offset="0" stop-color="#d9d9dc"/><stop offset=".4" stop-color="#f4f4f6"/><stop offset=".75" stop-color="#cfd3da"/><stop offset="1" stop-color="#f2f2f2"/></linearGradient>
<linearGradient id="gl3" x1="0" y1="0" x2="1" y2="0"><stop offset="0" stop-color="#8e0b0d"/><stop offset=".5" stop-color="#c81015"/><stop offset="1" stop-color="#860a0c"/></linearGradient>
</defs>
<path d="M11 36 C20 28.5 31 26 40 26.5 C50 27 62 30 73 32.5 C85 35 93 35 101 32.5 C96 37.5 88 40.5 80 40.5 C68 40.5 55 37 42 37 C32 37 25 41 21 47 C18 43 14 39 11 36 Z" fill="url(#gs3)"/>
<path d="M1.2 22 C11 14 24 12 34 13.5 C49 16 61 25.5 74 34.5 C63 31.5 55 25 43 23 C31 21 20 24 10.7 31.2 C8 28 5 25 1.2 22 Z" fill="url(#gr3)"/>
<text x="5.6" y="81.8" font-family="Liberation Sans, sans-serif" font-weight="700" font-size="59.5" fill="url(#gl3)" stroke="#a30e10" stroke-width="0.8" textLength="42.1" lengthAdjust="spacingAndGlyphs">O</text>
<text x="46.3" y="73" font-family="DejaVu Sans, sans-serif" font-weight="700" font-size="45" fill="#a60e11">J</text>
<text x="57.5" y="80.9" font-family="Liberation Sans, sans-serif" font-weight="700" font-size="57" fill="url(#gl3)" stroke="#a30e10" stroke-width="0.8" textLength="32.6" lengthAdjust="spacingAndGlyphs">K</text>
<rect x="100.9" y="39.2" width="1.4" height="44.2" fill="#a85a5c"/>
<g font-family="Liberation Sans, sans-serif" font-weight="700" font-size="12.7" fill="#666">
<text x="109" y="51.1" textLength="68" lengthAdjust="spacingAndGlyphs">OTORITAS</text>
<text x="109" y="66.3" textLength="33.5" lengthAdjust="spacingAndGlyphs">JASA</text>
<text x="109" y="81.2" textLength="79.5" lengthAdjust="spacingAndGlyphs">KEUANGAN</text>
</g></svg>
<div class="g" style="left:50px;top:166.47px;width:958.2px;height:1.99px;background:#e5656b"></div>
<div class="t lb" style="left:58.6px;top:193.58px">Nama Lembaga Jasa Keuangan</div>
<div class="t lb cl" style="left:413.5px;top:193.58px">:</div>
<div class="t v" style="left:433px;top:193.58px">PT BPR BKK Boyolali (Perseroda)</div>
<div class="t lb" style="left:58.6px;top:253.48px">Posisi Laporan</div>
<div class="t lb cl" style="left:413.5px;top:253.48px">:</div>
<div class="t v" style="left:433px;top:253.48px">Juni 2021</div>
<div class="b" style="left:57.03px;top:344.19px;width:895.45px;height:85.8px;background:#f24f4f"></div>
<div class="g" style="left:322.48px;top:344.19px;width:1.98px;height:85.8px;background:#fbaaa7"></div>
<div class="g" style="left:323.96px;top:398.59px;width:628.52px;height:1.99px;background:#fbaaa7"></div>
<div class="g" style="left:417.52px;top:399.59px;width:1.98px;height:30.4px;background:#fbaaa7"></div>
<div class="g" style="left:512.57px;top:399.59px;width:1.98px;height:30.4px;background:#fbaaa7"></div>
<div class="g" style="left:608.61px;top:399.59px;width:1.98px;height:30.4px;background:#fbaaa7"></div>
<div class="g" style="left:718.51px;top:399.59px;width:1.98px;height:30.4px;background:#fbaaa7"></div>
<div class="g" style="left:835.35px;top:399.59px;width:1.98px;height:30.4px;background:#fbaaa7"></div>
<div class="t th c" style="left:-9.5px;top:364.93px">Keterangan</div>
<div class="t th c" style="left:438.22px;top:364.93px">Nominal Dalam Ribuan Rupiah</div>
<div class="t th c" style="left:171.04px;top:408.33px">L</div>
<div class="t th c" style="left:265.89px;top:408.33px">DPK</div>
<div class="t th c" style="left:361.63px;top:408.33px">KL</div>
<div class="t th c" style="left:464.7px;top:408.33px">D</div>
<div class="t th c" style="left:578.32px;top:408.33px">M</div>
<div class="t th c" style="left:694.65px;top:408.33px">Jumlah</div>
<div class="t s8" style="left:77.82px;top:435.13px">Penempatan pada bank lain</div>
<div class="t s8 r" style="left:14.72px;top:435.13px">32.310.496</div>
<div class="b" style="left:418.62px;top:430.99px;width:94.54px;height:29.32px;background:#666666"></div>
<div class="t s8 r" style="left:206.2px;top:435.13px">0</div>
<div class="b" style="left:610.1px;top:430.99px;width:109.2px;height:29.32px;background:#666666"></div>
<div class="t s8 r" style="left:433.43px;top:435.13px">0</div>
<div class="t s8 r" style="left:549.08px;top:435.13px">32.310.496</div>
<div class="t s8" style="left:77.82px;top:465.45px">Kredit yang diberikan</div>
<div class="t s8" style="left:77.82px;top:495.77px">a. Kepada BPR</div>
<div class="t s8 r" style="left:14.72px;top:495.77px">0</div>
<div class="t s8 r" style="left:110.26px;top:495.77px">0</div>
<div class="t s8 r" style="left:206.2px;top:495.77px">0</div>
<div class="t s8 r" style="left:316.4px;top:495.77px">0</div>
<div class="t s8 r" style="left:433.43px;top:495.77px">0</div>
<div class="t s8 r" style="left:549.08px;top:495.77px">0</div>
<div class="t s8" style="left:77.82px;top:526.09px">b. Kepada Bank Umum</div>
<div class="t s8 r" style="left:14.72px;top:526.09px">0</div>
<div class="t s8 r" style="left:110.26px;top:526.09px">0</div>
<div class="t s8 r" style="left:206.2px;top:526.09px">0</div>
<div class="t s8 r" style="left:316.4px;top:526.09px">0</div>
<div class="t s8 r" style="left:433.43px;top:526.09px">0</div>
<div class="t s8 r" style="left:549.08px;top:526.09px">0</div>
<div class="t s8" style="left:77.82px;top:556.41px">c. Kepada non bank - pihak terkait</div>
<div class="t s8 r" style="left:14.72px;top:556.41px">0</div>
<div class="t s8 r" style="left:110.26px;top:556.41px">0</div>
<div class="t s8 r" style="left:206.2px;top:556.41px">0</div>
<div class="t s8 r" style="left:316.4px;top:556.41px">0</div>
<div class="t s8 r" style="left:433.43px;top:556.41px">0</div>
<div class="t s8 r" style="left:549.08px;top:556.41px">0</div>
<div class="t s8" style="left:77.82px;top:586.73px">d. Kepada non bank - pihak tidak</div>
<div class="t s8" style="left:77.82px;top:602.83px">terkait</div>
<div class="t s8 r" style="left:14.72px;top:586.73px">137.556.338</div>
<div class="t s8 r" style="left:110.26px;top:586.73px">43.488.133</div>
<div class="t s8 r" style="left:206.2px;top:586.73px">1.394.199</div>
<div class="t s8 r" style="left:316.4px;top:586.73px">2.147.331</div>
<div class="t s8 r" style="left:433.43px;top:586.73px">12.472.887</div>
<div class="t s8 r" style="left:549.08px;top:586.73px">197.058.888</div>
<div class="t s8" style="left:77.82px;top:626.03px">Jumlah Aset Produktif</div>
<div class="t s8 r" style="left:14.72px;top:626.03px">169.866.834</div>
<div class="t s8 r" style="left:110.26px;top:626.03px">43.488.133</div>
<div class="t s8 r" style="left:206.2px;top:626.03px">1.394.199</div>
<div class="t s8 r" style="left:316.4px;top:626.03px">2.147.331</div>
<div class="t s8 r" style="left:433.43px;top:626.03px">12.472.887</div>
<div class="t s8 r" style="left:549.08px;top:626.03px">229.369.384</div>
<div class="t s8" style="left:77.82px;top:656.35px">Rasio - rasio (%)</div>
<div class="b" style="left:324.46px;top:652.21px;width:93.16px;height:29.32px;background:#666666"></div>
<div class="b" style="left:418.62px;top:652.21px;width:94.54px;height:29.32px;background:#666666"></div>
<div class="b" style="left:514.16px;top:652.21px;width:94.94px;height:29.32px;background:#666666"></div>
<div class="b" style="left:610.1px;top:652.21px;width:109.2px;height:29.32px;background:#666666"></div>
<div class="b" style="left:720.3px;top:652.21px;width:116.03px;height:29.32px;background:#666666"></div>
<div class="b" style="left:837.33px;top:652.21px;width:114.65px;height:29.32px;background:#666666"></div>
<div class="g" style="left:56.14px;top:459.35px;width:897.03px;height:1.99px;background:#d4d4d4"></div>
<div class="g" style="left:56.14px;top:490.24px;width:897.03px;height:1.99px;background:#d4d4d4"></div>
<div class="g" style="left:56.14px;top:520.12px;width:897.03px;height:1.99px;background:#d4d4d4"></div>
<div class="g" style="left:56.14px;top:551.01px;width:897.03px;height:1.99px;background:#d4d4d4"></div>
<div class="g" style="left:56.14px;top:580.89px;width:897.03px;height:1.99px;background:#d4d4d4"></div>
<div class="g" style="left:56.14px;top:620.74px;width:897.03px;height:1.99px;background:#d4d4d4"></div>
<div class="g" style="left:56.14px;top:650.63px;width:897.03px;height:1.99px;background:#d4d4d4"></div>
<div class="g" style="left:56.14px;top:681.51px;width:897.03px;height:1.99px;background:#d4d4d4"></div>
<div class="g" style="left:56.14px;top:429.99px;width:1.98px;height:253.51px;background:#e6e6e6"></div>
<div class="g" style="left:322.48px;top:429.99px;width:1.98px;height:252.52px;background:#d4d4d4"></div>
<div class="g" style="left:417.52px;top:429.99px;width:1.98px;height:252.52px;background:#d4d4d4"></div>
<div class="g" style="left:512.57px;top:429.99px;width:1.98px;height:252.52px;background:#d4d4d4"></div>
<div class="g" style="left:608.61px;top:429.99px;width:1.98px;height:252.52px;background:#d4d4d4"></div>
<div class="g" style="left:718.51px;top:429.99px;width:1.98px;height:252.52px;background:#d4d4d4"></div>
<div class="g" style="left:835.35px;top:429.99px;width:1.98px;height:252.52px;background:#d4d4d4"></div>
<div class="g" style="left:951.19px;top:429.99px;width:1.98px;height:253.51px;background:#e6e6e6"></div>
<div class="t s8" style="left:77.82px;top:686.67px">a. KPMM</div>
<div class="t s8 c" style="left:438.22px;top:686.67px">27,82</div>
<div class="t s8" style="left:77.82px;top:716.99px">b. KAP</div>
<div class="t s8 c" style="left:438.22px;top:716.99px">6,44</div>
<div class="t s8" style="left:77.82px;top:747.31px">c. PPAP</div>
<div class="t s8 c" style="left:438.22px;top:747.31px">100,00</div>
<div class="t s8" style="left:77.82px;top:777.63px">d. NPL (neto)</div>
<div class="t s8 c" style="left:438.22px;top:777.63px">5,80</div>
<div class="t s8" style="left:77.82px;top:807.95px">e. ROA</div>
<div class="t s8 c" style="left:438.22px;top:807.95px">2,09</div>
<div class="t s8" style="left:77.82px;top:838.27px">f. BOPO</div>
<div class="t s8 c" style="left:438.22px;top:838.27px">87,14</div>
<div class="t s8" style="left:77.82px;top:868.59px">g. LDR</div>
<div class="t s8 c" style="left:438.22px;top:868.59px">82,57</div>
<div class="t s8" style="left:77.82px;top:898.91px">h. Cash Ratio</div>
<div class="t s8 c" style="left:438.22px;top:898.91px">12,66</div>
<div class="g" style="left:56.14px;top:711.4px;width:897.03px;height:1.99px;background:#d4d4d4"></div>
<div class="g" style="left:56.14px;top:741.28px;width:897.03px;height:1.99px;background:#d4d4d4"></div>
<div class="g" style="left:56.14px;top:772.17px;width:897.03px;height:1.99px;background:#d4d4d4"></div>
<div class="g" style="left:56.14px;top:802.05px;width:897.03px;height:1.99px;background:#d4d4d4"></div>
<div class="g" style="left:56.14px;top:832.93px;width:897.03px;height:1.99px;background:#d4d4d4"></div>
<div class="g" style="left:56.14px;top:862.82px;width:897.03px;height:1.99px;background:#d4d4d4"></div>
<div class="g" style="left:56.14px;top:893.7px;width:897.03px;height:1.99px;background:#d4d4d4"></div>
<div class="g" style="left:56.14px;top:923.59px;width:897.03px;height:1.99px;background:#d4d4d4"></div>
<div class="g" style="left:56.14px;top:682.03px;width:1.98px;height:243.55px;background:#e6e6e6"></div>
<div class="g" style="left:322.48px;top:682.03px;width:1.98px;height:242.56px;background:#d4d4d4"></div>
<div class="g" style="left:951.19px;top:682.03px;width:1.98px;height:243.55px;background:#e6e6e6"></div>
<div class="g" style="left:48.5px;top:1425.68px;width:959.7px;height:1px;background:#e4747a"></div>
<div class="t f6 fr" style="left:57.2px;top:1434.04px">Tanggal Cetak</div>
<div class="t f6" style="left:153.3px;top:1434.04px">21/07/2021 12:18:13 WIB</div>
<div class="t f6 fr" style="left:314px;top:1434.04px">Dicetak Oleh</div>
<div class="t f6" style="left:400.7px;top:1434.04px">waspada@bprbkkboyolali.co.id</div>
<div class="t f6" style="left:910.5px;top:1434.04px">1</div>
<div class="t f6" style="left:930.7px;top:1435.04px">dari</div>
<div class="t f6" style="left:962.5px;top:1435.04px">1</div>
</section>
<section class="p" style="transform:matrix(0.9906,0,0,0.9905,3199.6,-0.6)">
<div class="t h1" style="left:58.8px;top:46.57px">LAPORAN PUBLIKASI TRIWULANAN</div>
<div class="t h1" style="left:58.8px;top:79.07px">Laporan Informasi Lainnya</div>
<div class="t s8" style="left:58.7px;top:122.84px">Aplikasi Pelaporan Online OJK (APOLO)</div>
<svg class="logo" style="left:818px;top:21px" width="200" height="100" viewBox="0 0 200 100">
<defs>
<linearGradient id="gr4" x1="0" y1="0" x2="1" y2="0"><stop offset="0" stop-color="#d81818"/><stop offset=".45" stop-color="#f0705a"/><stop offset="1" stop-color="#c41a1a"/></linearGradient>
<linearGradient id="gs4" x1="0" y1="0" x2="1" y2="0"><stop offset="0" stop-color="#d9d9dc"/><stop offset=".4" stop-color="#f4f4f6"/><stop offset=".75" stop-color="#cfd3da"/><stop offset="1" stop-color="#f2f2f2"/></linearGradient>
<linearGradient id="gl4" x1="0" y1="0" x2="1" y2="0"><stop offset="0" stop-color="#8e0b0d"/><stop offset=".5" stop-color="#c81015"/><stop offset="1" stop-color="#860a0c"/></linearGradient>
</defs>
<path d="M11 36 C20 28.5 31 26 40 26.5 C50 27 62 30 73 32.5 C85 35 93 35 101 32.5 C96 37.5 88 40.5 80 40.5 C68 40.5 55 37 42 37 C32 37 25 41 21 47 C18 43 14 39 11 36 Z" fill="url(#gs4)"/>
<path d="M1.2 22 C11 14 24 12 34 13.5 C49 16 61 25.5 74 34.5 C63 31.5 55 25 43 23 C31 21 20 24 10.7 31.2 C8 28 5 25 1.2 22 Z" fill="url(#gr4)"/>
<text x="5.6" y="81.8" font-family="Liberation Sans, sans-serif" font-weight="700" font-size="59.5" fill="url(#gl4)" stroke="#a30e10" stroke-width="0.8" textLength="42.1" lengthAdjust="spacingAndGlyphs">O</text>
<text x="46.3" y="73" font-family="DejaVu Sans, sans-serif" font-weight="700" font-size="45" fill="#a60e11">J</text>
<text x="57.5" y="80.9" font-family="Liberation Sans, sans-serif" font-weight="700" font-size="57" fill="url(#gl4)" stroke="#a30e10" stroke-width="0.8" textLength="32.6" lengthAdjust="spacingAndGlyphs">K</text>
<rect x="100.9" y="39.2" width="1.4" height="44.2" fill="#a85a5c"/>
<g font-family="Liberation Sans, sans-serif" font-weight="700" font-size="12.7" fill="#666">
<text x="109" y="51.1" textLength="68" lengthAdjust="spacingAndGlyphs">OTORITAS</text>
<text x="109" y="66.3" textLength="33.5" lengthAdjust="spacingAndGlyphs">JASA</text>
<text x="109" y="81.2" textLength="79.5" lengthAdjust="spacingAndGlyphs">KEUANGAN</text>
</g></svg>
<div class="g" style="left:50px;top:167.19px;width:958.2px;height:2.02px;background:#e5656b"></div>
<div class="t lb" style="left:57.6px;top:194.68px">Nama Lembaga Jasa Keuangan</div>
<div class="t lb cl" style="left:412.6px;top:194.68px">:</div>
<div class="t v" style="left:433px;top:194.68px">PT BPR BKK Boyolali (Perseroda)</div>
<div class="t lb" style="left:57.6px;top:254.18px">Posisi Laporan</div>
<div class="t lb cl" style="left:412.6px;top:254.18px">:</div>
<div class="t v" style="left:433px;top:254.18px">Juni 2021</div>
<div class="b" style="left:59.96px;top:331.45px;width:926.51px;height:55.4px;background:#f24f4f"></div>
<div class="g" style="left:315.36px;top:331.45px;width:2.02px;height:55.4px;background:#fbaaa7"></div>
<div class="g" style="left:584.9px;top:331.45px;width:2.02px;height:55.4px;background:#fbaaa7"></div>
<div class="g" style="left:723.2px;top:331.45px;width:2.02px;height:55.4px;background:#fbaaa7"></div>
<div class="t th c" style="left:-11.89px;top:344.14px">Anggota Direksi BPR dan Anggota</div>
<div class="t th c" style="left:-11.89px;top:360.24px">Dewan Komisaris BPR</div>
<div class="t th c" style="left:250.99px;top:352.19px">Pemegang Saham</div>
<div class="t th c" style="left:455.16px;top:336.09px">Pemegang Saham</div>
<div class="t th c" style="left:455.16px;top:352.19px">Pengendali</div>
<div class="t th c" style="left:455.16px;top:368.29px">(Ya/Tidak)</div>
<div class="t th c" style="left:655.54px;top:352.19px">Ultimate Shareholders</div>
<div class="t s8" style="left:63.36px;top:391.39px">DIREKSI</div>
<div class="t s8" style="left:319.97px;top:391.39px">1. Ganjar Pranowo (51.00%)</div>
<div class="t s8 c" style="left:455.16px;top:391.39px">Ya</div>
<div class="t s8" style="left:728.31px;top:391.39px">1. Ganjar Pranowo SH. M.IP</div>
<div class="t s8" style="left:63.36px;top:421.76px">1. Kuwat Wiyono</div>
<div class="t s8" style="left:319.97px;top:421.76px">2. M Said Hidayat (49.00%)</div>
<div class="t s8 c" style="left:455.16px;top:421.76px">Tidak</div>
<div class="t s8" style="left:728.31px;top:421.76px">2. M SAID HIDAYAT,SH</div>
<div class="t s8" style="left:63.36px;top:452.13px">2. JOKO NARYANTO</div>
<div class="t s8" style="left:63.36px;top:482.5px">3. WARTONO</div>
<div class="t s8" style="left:63.36px;top:512.87px">DEWAN KOMISARIS</div>
<div class="t s8" style="left:63.36px;top:543.24px">1. Randy Aditya SE MM</div>
<div class="t s8" style="left:63.36px;top:573.61px">2. BINASIH SETYONO S.SOS</div>
<div class="g" style="left:58.95px;top:416.56px;width:928.73px;height:2.02px;background:#d4d4d4"></div>
<div class="g" style="left:58.95px;top:446.85px;width:928.73px;height:2.02px;background:#d4d4d4"></div>
<div class="g" style="left:58.95px;top:477.13px;width:928.73px;height:2.02px;background:#d4d4d4"></div>
<div class="g" style="left:58.95px;top:507.42px;width:928.73px;height:2.02px;background:#d4d4d4"></div>
<div class="g" style="left:58.95px;top:537.71px;width:928.73px;height:2.02px;background:#d4d4d4"></div>
<div class="g" style="left:58.95px;top:568px;width:928.73px;height:2.02px;background:#d4d4d4"></div>
<div class="g" style="left:58.95px;top:598.28px;width:928.73px;height:2.02px;background:#d4d4d4"></div>
<div class="g" style="left:58.95px;top:628.57px;width:928.73px;height:2.02px;background:#d4d4d4"></div>
<div class="g" style="left:58.95px;top:658.86px;width:928.73px;height:2.02px;background:#d4d4d4"></div>
<div class="g" style="left:58.95px;top:689.15px;width:928.73px;height:2.02px;background:#d4d4d4"></div>
<div class="g" style="left:58.95px;top:386.85px;width:2.02px;height:304.32px;background:#e6e6e6"></div>
<div class="g" style="left:315.36px;top:386.85px;width:2.02px;height:303.31px;background:#d4d4d4"></div>
<div class="g" style="left:584.9px;top:386.85px;width:2.02px;height:303.31px;background:#d4d4d4"></div>
<div class="g" style="left:723.2px;top:386.85px;width:2.02px;height:303.31px;background:#d4d4d4"></div>
<div class="g" style="left:985.67px;top:386.85px;width:2.02px;height:304.32px;background:#e6e6e6"></div>
<div class="t s8" style="left:63.36px;top:712.32px">Nama Kantor Akuntan Publik yang mengaudit laporan keuangan tahunan:</div>
<div class="t s8" style="left:63.36px;top:728.42px">Nama Akuntan Publik yang mengaudit laporan keuangan tahunan:</div>
<div class="t s8" style="left:63.36px;top:779.06px">1. Informasi keuangan di atas telah disusun untuk memenuhi Peraturan OJK No.48/POJK.03/2017 tanggal 12 Juli 2017 tentang Transparansi</div>
<div class="t s8" style="left:63.36px;top:795.16px">Kondisi Keuangan BPR, Surat Edaran OJK No.39 /SEOJK.03/2017 tanggal 19 Juli 2017 tentang Laporan tahunan dan laporan Keuangan</div>
<div class="t s8" style="left:63.36px;top:811.26px">Publikasi BPR, dan Surat Edaran OJK No.16 /SEOJK.03/2019 tanggal 29 Agustus 2019 tentang Perubahan Surat Edaran OJK No.39</div>
<div class="t s8" style="left:63.36px;top:827.36px"> /SEOJK.03/2017 tentang Laporan tahunan dan laporan Keuangan Publikasi BPR</div>
<div class="t s8" style="left:63.36px;top:843.46px">2.Laporan Keuangan Publikasi ini sepenuhnya menjadi tanggung jawab Direksi BPR</div>
<div class="t s8" style="left:63.36px;top:859.56px">3.Penyajian Laporan Keuangan Publikasi ini belum sepenuhnya mengacu pada Pedoman Akuntansi BPR</div>
<div class="g" style="left:48.5px;top:1425.14px;width:959.7px;height:1.01px;background:#e4747a"></div>
<div class="t f6 fr" style="left:57.2px;top:1434.11px">Tanggal Cetak</div>
<div class="t f6" style="left:153.3px;top:1434.11px">21/07/2021 12:20:20 WIB</div>
<div class="t f6 fr" style="left:314px;top:1434.11px">Dicetak Oleh</div>
<div class="t f6" style="left:400.7px;top:1434.11px">waspada@bprbkkboyolali.co.id</div>
<div class="t f6" style="left:910.5px;top:1434.11px">1</div>
<div class="t f6" style="left:930.7px;top:1435.11px">dari</div>
<div class="t f6" style="left:962.5px;top:1435.11px">1</div>
</section>
<section class="p" style="transform:matrix(0.999,0,0,0.9989,0,1503.1)">
<div class="t h1" style="left:58.8px;top:46.57px">LAPORAN PUBLIKASI TRIWULANAN</div>
<div class="t h1" style="left:58.8px;top:79.07px">Laporan Posisi Keuangan</div>
<div class="t s8" style="left:58.7px;top:122.84px">Aplikasi Pelaporan Online OJK (APOLO)</div>
<svg class="logo" style="left:818px;top:21px" width="200" height="100" viewBox="0 0 200 100">
<defs>
<linearGradient id="gr5" x1="0" y1="0" x2="1" y2="0"><stop offset="0" stop-color="#d81818"/><stop offset=".45" stop-color="#f0705a"/><stop offset="1" stop-color="#c41a1a"/></linearGradient>
<linearGradient id="gs5" x1="0" y1="0" x2="1" y2="0"><stop offset="0" stop-color="#d9d9dc"/><stop offset=".4" stop-color="#f4f4f6"/><stop offset=".75" stop-color="#cfd3da"/><stop offset="1" stop-color="#f2f2f2"/></linearGradient>
<linearGradient id="gl5" x1="0" y1="0" x2="1" y2="0"><stop offset="0" stop-color="#8e0b0d"/><stop offset=".5" stop-color="#c81015"/><stop offset="1" stop-color="#860a0c"/></linearGradient>
</defs>
<path d="M11 36 C20 28.5 31 26 40 26.5 C50 27 62 30 73 32.5 C85 35 93 35 101 32.5 C96 37.5 88 40.5 80 40.5 C68 40.5 55 37 42 37 C32 37 25 41 21 47 C18 43 14 39 11 36 Z" fill="url(#gs5)"/>
<path d="M1.2 22 C11 14 24 12 34 13.5 C49 16 61 25.5 74 34.5 C63 31.5 55 25 43 23 C31 21 20 24 10.7 31.2 C8 28 5 25 1.2 22 Z" fill="url(#gr5)"/>
<text x="5.6" y="81.8" font-family="Liberation Sans, sans-serif" font-weight="700" font-size="59.5" fill="url(#gl5)" stroke="#a30e10" stroke-width="0.8" textLength="42.1" lengthAdjust="spacingAndGlyphs">O</text>
<text x="46.3" y="73" font-family="DejaVu Sans, sans-serif" font-weight="700" font-size="45" fill="#a60e11">J</text>
<text x="57.5" y="80.9" font-family="Liberation Sans, sans-serif" font-weight="700" font-size="57" fill="url(#gl5)" stroke="#a30e10" stroke-width="0.8" textLength="32.6" lengthAdjust="spacingAndGlyphs">K</text>
<rect x="100.9" y="39.2" width="1.4" height="44.2" fill="#a85a5c"/>
<g font-family="Liberation Sans, sans-serif" font-weight="700" font-size="12.7" fill="#666">
<text x="109" y="51.1" textLength="68" lengthAdjust="spacingAndGlyphs">OTORITAS</text>
<text x="109" y="66.3" textLength="33.5" lengthAdjust="spacingAndGlyphs">JASA</text>
<text x="109" y="81.2" textLength="79.5" lengthAdjust="spacingAndGlyphs">KEUANGAN</text>
</g></svg>
<div class="g" style="left:50px;top:167.08px;width:958.2px;height:2px;background:#e5656b"></div>
<div class="t lb" style="left:57px;top:193.58px">Nama Lembaga Jasa Keuangan</div>
<div class="t lb cl" style="left:413.1px;top:193.58px">:</div>
<div class="t v" style="left:433px;top:193.58px">PT BPR BKK Boyolali (Perseroda)</div>
<div class="t lb" style="left:57px;top:253.48px">Posisi Laporan</div>
<div class="t lb cl" style="left:413.1px;top:253.48px">:</div>
<div class="t v" style="left:433px;top:253.48px">Juni 2021</div>
<div class="b" style="left:55.46px;top:297.83px;width:878.97px;height:55.4px;background:#f24f4f"></div>
<div class="t th c" style="left:124.68px;top:318.57px">LIABILITAS</div>
<div class="t th c" style="left:474.52px;top:318.57px">Jun 2021</div>
<div class="t th c" style="left:644.79px;top:318.57px">Jun 2020</div>
<div class="g" style="left:592.59px;top:297.83px;width:2px;height:55.4px;background:#fbaaa7"></div>
<div class="g" style="left:753.75px;top:297.83px;width:2px;height:55.4px;background:#fbaaa7"></div>
<div class="t s8" style="left:58.66px;top:357.77px">Liabilitas Lainnya</div>
<div class="t s8 r" style="left:351.76px;top:357.77px">962.820</div>
<div class="t s8 r" style="left:531.03px;top:357.77px">990.122</div>
<div class="t s8" style="left:58.66px;top:388.74px">Total Liabilitas</div>
<div class="t s8 r" style="left:351.76px;top:388.74px">210.636.398</div>
<div class="t s8 r" style="left:531.03px;top:388.74px">219.470.345</div>
<div class="g" style="left:54.05px;top:383.32px;width:880.88px;height:2px;background:#d4d4d4"></div>
<div class="g" style="left:54.05px;top:413.35px;width:880.88px;height:2px;background:#d4d4d4"></div>
<div class="g" style="left:54.05px;top:353.23px;width:2px;height:62.13px;background:#e6e6e6"></div>
<div class="g" style="left:592.59px;top:353.23px;width:2px;height:61.13px;background:#d4d4d4"></div>
<div class="g" style="left:753.75px;top:353.23px;width:2px;height:61.13px;background:#d4d4d4"></div>
<div class="g" style="left:932.93px;top:353.23px;width:2px;height:62.13px;background:#e6e6e6"></div>
<div class="t s8 r" style="left:509.51px;top:423.92px">(Dalam ribuan rupiah)</div>
<div class="b" style="left:55.46px;top:447.59px;width:878.97px;height:55.4px;background:#f24f4f"></div>
<div class="t th c" style="left:124.68px;top:468.33px">EKUITAS</div>
<div class="t th c" style="left:474.52px;top:468.33px">Jun 2021</div>
<div class="t th c" style="left:644.79px;top:468.33px">Jun 2020</div>
<div class="g" style="left:592.59px;top:447.59px;width:2px;height:55.4px;background:#fbaaa7"></div>
<div class="g" style="left:753.75px;top:447.59px;width:2px;height:55.4px;background:#fbaaa7"></div>
<div class="t s8" style="left:58.66px;top:507.53px">Modal Disetor</div>
<div class="t s8" style="left:76.06px;top:538.5px">a.    Modal Dasar</div>
<div class="t s8 r" style="left:351.76px;top:538.5px">80.000.000</div>
<div class="t s8 r" style="left:531.03px;top:538.5px">80.000.000</div>
<div class="t s8" style="left:76.06px;top:568.87px">b.    Modal yang Belum Disetor -/-</div>
<div class="t s8 r" style="left:351.76px;top:568.87px">60.000.000</div>
<div class="t s8 r" style="left:531.03px;top:568.87px">60.000.000</div>
<div class="t s8" style="left:58.66px;top:599.24px">Tambahan Modal Disetor</div>
<div class="t s8" style="left:76.06px;top:629.61px">a.    Agio (Disagio)</div>
<div class="t s8 r" style="left:351.76px;top:629.61px">0</div>
<div class="t s8 r" style="left:531.03px;top:629.61px">0</div>
<div class="t s8" style="left:76.06px;top:659.98px">b.    Modal Sumbangan</div>
<div class="t s8 r" style="left:351.76px;top:659.98px">0</div>
<div class="t s8 r" style="left:531.03px;top:659.98px">0</div>
<div class="t s8" style="left:76.06px;top:690.35px">c.    Dana Setoran Modal-Ekuitas</div>
<div class="t s8 r" style="left:351.76px;top:690.35px">0</div>
<div class="t s8 r" style="left:531.03px;top:690.35px">0</div>
<div class="t s8" style="left:76.06px;top:720.72px">d.    Tambahan Modal Disetor Lainnya</div>
<div class="t s8 r" style="left:351.76px;top:720.72px">0</div>
<div class="t s8 r" style="left:531.03px;top:720.72px">0</div>
<div class="t s8" style="left:58.66px;top:751.09px">Ekuitas Lain</div>
<div class="t s8" style="left:76.06px;top:781.46px">a.    Keuntungan (Kerugian) dari Perubahan Nilai Aset Keuangan dalam</div>
<div class="t s8" style="left:76.06px;top:797.56px">Kelompok Tersedia untuk Dijual</div>
<div class="t s8 r" style="left:351.76px;top:781.46px">0</div>
<div class="t s8 r" style="left:531.03px;top:781.46px">0</div>
<div class="t s8" style="left:76.06px;top:820.86px">b.    Keuntungan Revaluasi Aset Tetap</div>
<div class="t s8 r" style="left:351.76px;top:820.86px">0</div>
<div class="t s8 r" style="left:531.03px;top:820.86px">0</div>
<div class="t s8" style="left:76.06px;top:851.23px">c.    Lainnya</div>
<div class="t s8 r" style="left:351.76px;top:851.23px">0</div>
<div class="t s8 r" style="left:531.03px;top:851.23px">0</div>
<div class="t s8" style="left:76.06px;top:881.6px">d.    Pajak Penghasilan terkait dengan Ekuitas Lain</div>
<div class="t s8 r" style="left:351.76px;top:881.6px">0</div>
<div class="t s8 r" style="left:531.03px;top:881.6px">0</div>
<div class="t s8" style="left:58.66px;top:911.97px">Cadangan</div>
<div class="t s8" style="left:76.06px;top:942.34px">a.    Umum</div>
<div class="t s8 r" style="left:351.76px;top:942.34px">4.800.818</div>
<div class="t s8 r" style="left:531.03px;top:942.34px">4.442.700</div>
<div class="t s8" style="left:76.06px;top:972.71px">b.    Tujuan</div>
<div class="t s8 r" style="left:351.76px;top:972.71px">4.264.325</div>
<div class="t s8 r" style="left:531.03px;top:972.71px">3.977.831</div>
<div class="t s8" style="left:58.66px;top:1003.08px">Laba (Rugi)</div>
<div class="t s8" style="left:76.06px;top:1033.45px">a.    Tahun-tahun Lalu</div>
<div class="t s8 r" style="left:351.76px;top:1033.45px">0</div>
<div class="t s8 r" style="left:531.03px;top:1033.45px">0</div>
<div class="t s8" style="left:76.06px;top:1063.82px">b.    Tahun Berjalan</div>
<div class="t s8 r" style="left:351.76px;top:1063.82px">1.197.219</div>
<div class="t s8 r" style="left:531.03px;top:1063.82px">729.668</div>
<div class="t s8" style="left:58.66px;top:1094.19px">Total Ekuitas</div>
<div class="t s8 r" style="left:351.76px;top:1094.19px">30.262.362</div>
<div class="t s8 r" style="left:531.03px;top:1094.19px">29.150.199</div>
<div class="g" style="left:54.05px;top:532.49px;width:880.88px;height:2px;background:#d4d4d4"></div>
<div class="g" style="left:54.05px;top:563.52px;width:880.88px;height:2px;background:#d4d4d4"></div>
<div class="g" style="left:54.05px;top:593.55px;width:880.88px;height:2px;background:#d4d4d4"></div>
<div class="g" style="left:54.05px;top:623.59px;width:880.88px;height:2px;background:#d4d4d4"></div>
<div class="g" style="left:54.05px;top:654.62px;width:880.88px;height:2px;background:#d4d4d4"></div>
<div class="g" style="left:54.05px;top:684.65px;width:880.88px;height:2px;background:#d4d4d4"></div>
<div class="g" style="left:54.05px;top:714.69px;width:880.88px;height:2px;background:#d4d4d4"></div>
<div class="g" style="left:54.05px;top:745.72px;width:880.88px;height:2px;background:#d4d4d4"></div>
<div class="g" style="left:54.05px;top:775.75px;width:880.88px;height:2px;background:#d4d4d4"></div>
<div class="g" style="left:54.05px;top:815.8px;width:880.88px;height:2px;background:#d4d4d4"></div>
<div class="g" style="left:54.05px;top:845.83px;width:880.88px;height:2px;background:#d4d4d4"></div>
<div class="g" style="left:54.05px;top:875.86px;width:880.88px;height:2px;background:#d4d4d4"></div>
<div class="g" style="left:54.05px;top:906.9px;width:880.88px;height:2px;background:#d4d4d4"></div>
<div class="g" style="left:54.05px;top:936.93px;width:880.88px;height:2px;background:#d4d4d4"></div>
<div class="g" style="left:54.05px;top:966.96px;width:880.88px;height:2px;background:#d4d4d4"></div>
<div class="g" style="left:54.05px;top:998px;width:880.88px;height:2px;background:#d4d4d4"></div>
<div class="g" style="left:54.05px;top:1028.03px;width:880.88px;height:2px;background:#d4d4d4"></div>
<div class="g" style="left:54.05px;top:1058.06px;width:880.88px;height:2px;background:#d4d4d4"></div>
<div class="g" style="left:54.05px;top:1089.1px;width:880.88px;height:2px;background:#d4d4d4"></div>
<div class="g" style="left:54.05px;top:1119.13px;width:880.88px;height:2px;background:#d4d4d4"></div>
<div class="g" style="left:54.05px;top:502.99px;width:2px;height:618.14px;background:#e6e6e6"></div>
<div class="g" style="left:592.59px;top:502.99px;width:2px;height:617.14px;background:#d4d4d4"></div>
<div class="g" style="left:753.75px;top:502.99px;width:2px;height:617.14px;background:#d4d4d4"></div>
<div class="g" style="left:932.93px;top:502.99px;width:2px;height:618.14px;background:#e6e6e6"></div>
<div class="g" style="left:48.5px;top:1425.47px;width:959.7px;height:1px;background:#e4747a"></div>
<div class="t f6 fr" style="left:57.2px;top:1434.03px">Tanggal Cetak</div>
<div class="t f6" style="left:153.3px;top:1434.03px">21/07/2021 12:13:48 WIB</div>
<div class="t f6 fr" style="left:314px;top:1434.03px">Dicetak Oleh</div>
<div class="t f6" style="left:400.7px;top:1434.03px">waspada@bprbkkboyolali.co.id</div>
<div class="t f6" style="left:910.5px;top:1434.03px">2</div>
<div class="t f6" style="left:930.7px;top:1435.03px">dari</div>
<div class="t f6" style="left:962.5px;top:1435.03px">2</div>
</section>
<section class="p" style="transform:matrix(1.0029,0,0,1.0022,1061.4,1502.9)">
<div class="t h1" style="left:59.5px;top:46.57px">LAPORAN PUBLIKASI TRIWULANAN</div>
<div class="t h1" style="left:59.5px;top:79.07px">Laporan Laba Rugi</div>
<div class="t s8" style="left:59.4px;top:122.84px">Aplikasi Pelaporan Online OJK (APOLO)</div>
<svg class="logo" style="left:818px;top:21px" width="200" height="100" viewBox="0 0 200 100">
<defs>
<linearGradient id="gr6" x1="0" y1="0" x2="1" y2="0"><stop offset="0" stop-color="#d81818"/><stop offset=".45" stop-color="#f0705a"/><stop offset="1" stop-color="#c41a1a"/></linearGradient>
<linearGradient id="gs6" x1="0" y1="0" x2="1" y2="0"><stop offset="0" stop-color="#d9d9dc"/><stop offset=".4" stop-color="#f4f4f6"/><stop offset=".75" stop-color="#cfd3da"/><stop offset="1" stop-color="#f2f2f2"/></linearGradient>
<linearGradient id="gl6" x1="0" y1="0" x2="1" y2="0"><stop offset="0" stop-color="#8e0b0d"/><stop offset=".5" stop-color="#c81015"/><stop offset="1" stop-color="#860a0c"/></linearGradient>
</defs>
<path d="M11 36 C20 28.5 31 26 40 26.5 C50 27 62 30 73 32.5 C85 35 93 35 101 32.5 C96 37.5 88 40.5 80 40.5 C68 40.5 55 37 42 37 C32 37 25 41 21 47 C18 43 14 39 11 36 Z" fill="url(#gs6)"/>
<path d="M1.2 22 C11 14 24 12 34 13.5 C49 16 61 25.5 74 34.5 C63 31.5 55 25 43 23 C31 21 20 24 10.7 31.2 C8 28 5 25 1.2 22 Z" fill="url(#gr6)"/>
<text x="5.6" y="81.8" font-family="Liberation Sans, sans-serif" font-weight="700" font-size="59.5" fill="url(#gl6)" stroke="#a30e10" stroke-width="0.8" textLength="42.1" lengthAdjust="spacingAndGlyphs">O</text>
<text x="46.3" y="73" font-family="DejaVu Sans, sans-serif" font-weight="700" font-size="45" fill="#a60e11">J</text>
<text x="57.5" y="80.9" font-family="Liberation Sans, sans-serif" font-weight="700" font-size="57" fill="url(#gl6)" stroke="#a30e10" stroke-width="0.8" textLength="32.6" lengthAdjust="spacingAndGlyphs">K</text>
<rect x="100.9" y="39.2" width="1.4" height="44.2" fill="#a85a5c"/>
<g font-family="Liberation Sans, sans-serif" font-weight="700" font-size="12.7" fill="#666">
<text x="109" y="51.1" textLength="68" lengthAdjust="spacingAndGlyphs">OTORITAS</text>
<text x="109" y="66.3" textLength="33.5" lengthAdjust="spacingAndGlyphs">JASA</text>
<text x="109" y="81.2" textLength="79.5" lengthAdjust="spacingAndGlyphs">KEUANGAN</text>
</g></svg>
<div class="g" style="left:50px;top:166.73px;width:958.2px;height:2px;background:#e5656b"></div>
<div class="t lb" style="left:57.8px;top:194.18px">Nama Lembaga Jasa Keuangan</div>
<div class="t lb cl" style="left:413.5px;top:194.18px">:</div>
<div class="t v" style="left:433px;top:194.18px">PT BPR BKK Boyolali (Perseroda)</div>
<div class="t lb" style="left:57.8px;top:254.18px">Posisi Laporan</div>
<div class="t lb cl" style="left:413.5px;top:254.18px">:</div>
<div class="t v" style="left:433px;top:254.18px">Juni 2021</div>
<div class="b" style="left:56.14px;top:297.65px;width:895.8px;height:55.4px;background:#f24f4f"></div>
<div class="t th c" style="left:133.74px;top:318.39px">POS</div>
<div class="t th c" style="left:492.1px;top:318.39px">Jun 2021</div>
<div class="t th c" style="left:662.4px;top:318.39px">Jun 2020</div>
<div class="g" style="left:610.83px;top:297.65px;width:1.99px;height:55.4px;background:#fbaaa7"></div>
<div class="g" style="left:772.36px;top:297.65px;width:1.99px;height:55.4px;background:#fbaaa7"></div>
<div class="t s8" style="left:76.88px;top:357.19px">Akan Direklasifikasikan ke Laba Rugi</div>
<div class="t s8" style="left:94.38px;top:388.16px">a. Keuntungan (Kerugian) dan Perubahan Nilai Aset Keuangan Dalam Kelompok</div>
<div class="t s8" style="left:94.38px;top:404.26px">Tersedia untuk Dijual</div>
<div class="t s8 r" style="left:369.46px;top:388.16px">0</div>
<div class="t s8 r" style="left:548.54px;top:388.16px">0</div>
<div class="t s8" style="left:94.38px;top:427.56px">b. Lainnya</div>
<div class="t s8 r" style="left:369.46px;top:427.56px">0</div>
<div class="t s8 r" style="left:548.54px;top:427.56px">0</div>
<div class="t s8" style="left:94.38px;top:457.93px">c. Pajak Penghasilan Terkait</div>
<div class="t s8 r" style="left:369.46px;top:457.93px">0</div>
<div class="t s8 r" style="left:548.54px;top:457.93px">0</div>
<div class="t s8" style="left:76.88px;top:488.3px">PENGHASILAN KOMPREHENSIF LAIN SETELAH PAJAK</div>
<div class="t s8 r" style="left:369.46px;top:488.3px">0</div>
<div class="t s8 r" style="left:548.54px;top:488.3px">0</div>
<div class="t s8" style="left:76.88px;top:518.67px">TOTAL LABA (RUGI) KOMPREHENSIF TAHUN BERJALAN</div>
<div class="t s8 r" style="left:369.46px;top:518.67px">0</div>
<div class="t s8 r" style="left:548.54px;top:518.67px">729.668</div>
<div class="g" style="left:55.44px;top:383.26px;width:897.4px;height:2px;background:#d4d4d4"></div>
<div class="g" style="left:55.44px;top:422.17px;width:897.4px;height:2px;background:#d4d4d4"></div>
<div class="g" style="left:55.44px;top:453.1px;width:897.4px;height:2px;background:#d4d4d4"></div>
<div class="g" style="left:55.44px;top:483.04px;width:897.4px;height:2px;background:#d4d4d4"></div>
<div class="g" style="left:55.44px;top:513.97px;width:897.4px;height:2px;background:#d4d4d4"></div>
<div class="g" style="left:55.44px;top:543.9px;width:897.4px;height:2px;background:#d4d4d4"></div>
<div class="g" style="left:55.44px;top:353.05px;width:1.99px;height:192.85px;background:#e6e6e6"></div>
<div class="g" style="left:610.83px;top:353.05px;width:1.99px;height:191.85px;background:#d4d4d4"></div>
<div class="g" style="left:772.36px;top:353.05px;width:1.99px;height:191.85px;background:#d4d4d4"></div>
<div class="g" style="left:950.84px;top:353.05px;width:1.99px;height:192.85px;background:#e6e6e6"></div>
<div class="g" style="left:48.5px;top:1425.96px;width:959.7px;height:1px;background:#e4747a"></div>
<div class="t f6 fr" style="left:57.2px;top:1434.12px">Tanggal Cetak</div>
<div class="t f6" style="left:153.3px;top:1434.12px">21/07/2021 12:15:35 WIB</div>
<div class="t f6 fr" style="left:314px;top:1434.12px">Dicetak Oleh</div>
<div class="t f6" style="left:400.7px;top:1434.12px">waspada@bprbkkboyolali.co.id</div>
<div class="t f6" style="left:910.5px;top:1434.12px">2</div>
<div class="t f6" style="left:930.7px;top:1435.12px">dari</div>
<div class="t f6" style="left:962.5px;top:1435.12px">2</div>
</section>
<section class="p" style="transform:matrix(1.039,0,0,0.9897,2105.5,1508.2)">
<div class="t h1" style="left:59.5px;top:46.57px">LAPORAN PUBLIKASI TRIWULANAN</div>
<div class="t h1" style="left:59.5px;top:79.07px">Laporan Komitmen Kontinjensi</div>
<div class="t s8" style="left:59.4px;top:122.84px">Aplikasi Pelaporan Online OJK (APOLO)</div>
<svg class="logo" style="left:818px;top:21px" width="200" height="100" viewBox="0 0 200 100">
<defs>
<linearGradient id="gr7" x1="0" y1="0" x2="1" y2="0"><stop offset="0" stop-color="#d81818"/><stop offset=".45" stop-color="#f0705a"/><stop offset="1" stop-color="#c41a1a"/></linearGradient>
<linearGradient id="gs7" x1="0" y1="0" x2="1" y2="0"><stop offset="0" stop-color="#d9d9dc"/><stop offset=".4" stop-color="#f4f4f6"/><stop offset=".75" stop-color="#cfd3da"/><stop offset="1" stop-color="#f2f2f2"/></linearGradient>
<linearGradient id="gl7" x1="0" y1="0" x2="1" y2="0"><stop offset="0" stop-color="#8e0b0d"/><stop offset=".5" stop-color="#c81015"/><stop offset="1" stop-color="#860a0c"/></linearGradient>
</defs>
<path d="M11 36 C20 28.5 31 26 40 26.5 C50 27 62 30 73 32.5 C85 35 93 35 101 32.5 C96 37.5 88 40.5 80 40.5 C68 40.5 55 37 42 37 C32 37 25 41 21 47 C18 43 14 39 11 36 Z" fill="url(#gs7)"/>
<path d="M1.2 22 C11 14 24 12 34 13.5 C49 16 61 25.5 74 34.5 C63 31.5 55 25 43 23 C31 21 20 24 10.7 31.2 C8 28 5 25 1.2 22 Z" fill="url(#gr7)"/>
<text x="5.6" y="81.8" font-family="Liberation Sans, sans-serif" font-weight="700" font-size="59.5" fill="url(#gl7)" stroke="#a30e10" stroke-width="0.8" textLength="42.1" lengthAdjust="spacingAndGlyphs">O</text>
<text x="46.3" y="73" font-family="DejaVu Sans, sans-serif" font-weight="700" font-size="45" fill="#a60e11">J</text>
<text x="57.5" y="80.9" font-family="Liberation Sans, sans-serif" font-weight="700" font-size="57" fill="url(#gl7)" stroke="#a30e10" stroke-width="0.8" textLength="32.6" lengthAdjust="spacingAndGlyphs">K</text>
<rect x="100.9" y="39.2" width="1.4" height="44.2" fill="#a85a5c"/>
<g font-family="Liberation Sans, sans-serif" font-weight="700" font-size="12.7" fill="#666">
<text x="109" y="51.1" textLength="68" lengthAdjust="spacingAndGlyphs">OTORITAS</text>
<text x="109" y="66.3" textLength="33.5" lengthAdjust="spacingAndGlyphs">JASA</text>
<text x="109" y="81.2" textLength="79.5" lengthAdjust="spacingAndGlyphs">KEUANGAN</text>
</g></svg>
<div class="g" style="left:50px;top:166.52px;width:958.2px;height:2.02px;background:#e5656b"></div>
<div class="t lb" style="left:57.8px;top:193.58px">Nama Lembaga Jasa Keuangan</div>
<div class="t lb cl" style="left:413.5px;top:193.58px">:</div>
<div class="t v" style="left:433px;top:193.58px">PT BPR BKK Boyolali (Perseroda)</div>
<div class="t lb" style="left:57.8px;top:254.48px">Posisi Laporan</div>
<div class="t lb cl" style="left:413.5px;top:254.48px">:</div>
<div class="t v" style="left:433px;top:254.48px">Juni 2021</div>
<div class="t s8 r" style="left:591.43px;top:322.49px">(Dalam ribuan rupiah)</div>
<div class="b" style="left:56.88px;top:344.85px;width:895px;height:55.4px;background:#f24f4f"></div>
<div class="t th c" style="left:133.93px;top:365.59px">POS</div>
<div class="t th c" style="left:491.87px;top:365.59px">Jun 2021</div>
<div class="t th c" style="left:662.32px;top:365.59px">Jun 2020</div>
<div class="g" style="left:609.72px;top:344.85px;width:1.92px;height:55.4px;background:#fbaaa7"></div>
<div class="g" style="left:771.41px;top:344.85px;width:1.92px;height:55.4px;background:#fbaaa7"></div>
<div class="t s8" style="left:77.57px;top:404.19px">TAGIHAN KOMITMEN</div>
<div class="t s8 r" style="left:369.36px;top:404.19px">0</div>
<div class="t s8 r" style="left:548.48px;top:404.19px">0</div>
<div class="t s8" style="left:94.87px;top:435.16px">a.   Fasilitas pinjaman yang diterima yang belum ditarik</div>
<div class="t s8 r" style="left:369.36px;top:435.16px">0</div>
<div class="t s8 r" style="left:548.48px;top:435.16px">0</div>
<div class="t s8" style="left:94.87px;top:465.53px">b.   Tagihan Komitmen lainnya</div>
<div class="t s8 r" style="left:369.36px;top:465.53px">0</div>
<div class="t s8 r" style="left:548.48px;top:465.53px">0</div>
<div class="t s8" style="left:77.57px;top:495.9px">KEWAJIBAN KOMITMEN</div>
<div class="t s8 r" style="left:369.36px;top:495.9px">0</div>
<div class="t s8 r" style="left:548.48px;top:495.9px">0</div>
<div class="t s8" style="left:94.87px;top:526.27px">a.   Fasilitas kredit kepada nasabah yang belum ditarik</div>
<div class="t s8 r" style="left:369.36px;top:526.27px">0</div>
<div class="t s8 r" style="left:548.48px;top:526.27px">0</div>
<div class="t s8" style="left:94.87px;top:556.64px">b.   Penerusan kredit</div>
<div class="t s8 r" style="left:369.36px;top:556.64px">0</div>
<div class="t s8 r" style="left:548.48px;top:556.64px">0</div>
<div class="t s8" style="left:94.87px;top:587.01px">c.   Kewajiban Komitmen Lainnya</div>
<div class="t s8 r" style="left:369.36px;top:587.01px">0</div>
<div class="t s8 r" style="left:548.48px;top:587.01px">0</div>
<div class="t s8" style="left:77.57px;top:617.38px">TAGIHAN KONTINJENSI</div>
<div class="t s8 r" style="left:369.36px;top:617.38px">13.725.002</div>
<div class="t s8 r" style="left:548.48px;top:617.38px">13.187.395</div>
<div class="t s8" style="left:94.87px;top:647.75px">a.   Pendapatan bunga dalam Penyelesaian</div>
<div class="t s8 r" style="left:369.36px;top:647.75px">5.377.050</div>
<div class="t s8 r" style="left:548.48px;top:647.75px">4.511.830</div>
<div class="t s8" style="left:94.87px;top:678.12px">b.   Aset produktif yang dihapus buku</div>
<div class="t s8 r" style="left:369.36px;top:678.12px">8.347.952</div>
<div class="t s8 r" style="left:548.48px;top:678.12px">8.675.565</div>
<div class="t s8" style="left:94.87px;top:708.49px">c.   Agunan dalam  proses penyelesaian kredit</div>
<div class="t s8 r" style="left:369.36px;top:708.49px">0</div>
<div class="t s8 r" style="left:548.48px;top:708.49px">0</div>
<div class="t s8" style="left:94.87px;top:738.86px">d.    Tagihan Kontinjensi Lainnya</div>
<div class="t s8 r" style="left:369.36px;top:738.86px">0</div>
<div class="t s8 r" style="left:548.48px;top:738.86px">0</div>
<div class="t s8" style="left:77.57px;top:769.23px">KEWAJIBAN KONTINJENSI</div>
<div class="t s8 r" style="left:369.36px;top:769.23px">0</div>
<div class="t s8 r" style="left:548.48px;top:769.23px">0</div>
<div class="t s8" style="left:77.57px;top:799.6px">REKENING ADMINISTRATIF LAINNYA</div>
<div class="t s8 r" style="left:369.36px;top:799.6px">0</div>
<div class="t s8 r" style="left:548.48px;top:799.6px">0</div>
<div class="g" style="left:56.3px;top:430.23px;width:897.02px;height:2.02px;background:#d4d4d4"></div>
<div class="g" style="left:56.3px;top:460.54px;width:897.02px;height:2.02px;background:#d4d4d4"></div>
<div class="g" style="left:56.3px;top:490.86px;width:897.02px;height:2.02px;background:#d4d4d4"></div>
<div class="g" style="left:56.3px;top:521.17px;width:897.02px;height:2.02px;background:#d4d4d4"></div>
<div class="g" style="left:56.3px;top:551.48px;width:897.02px;height:2.02px;background:#d4d4d4"></div>
<div class="g" style="left:56.3px;top:581.79px;width:897.02px;height:2.02px;background:#d4d4d4"></div>
<div class="g" style="left:56.3px;top:612.1px;width:897.02px;height:2.02px;background:#d4d4d4"></div>
<div class="g" style="left:56.3px;top:642.42px;width:897.02px;height:2.02px;background:#d4d4d4"></div>
<div class="g" style="left:56.3px;top:672.73px;width:897.02px;height:2.02px;background:#d4d4d4"></div>
<div class="g" style="left:56.3px;top:703.04px;width:897.02px;height:2.02px;background:#d4d4d4"></div>
<div class="g" style="left:56.3px;top:734.36px;width:897.02px;height:2.02px;background:#d4d4d4"></div>
<div class="g" style="left:56.3px;top:764.68px;width:897.02px;height:2.02px;background:#d4d4d4"></div>
<div class="g" style="left:56.3px;top:794.99px;width:897.02px;height:2.02px;background:#d4d4d4"></div>
<div class="g" style="left:56.3px;top:825.3px;width:897.02px;height:2.02px;background:#d4d4d4"></div>
<div class="g" style="left:56.3px;top:400.25px;width:1.92px;height:427.07px;background:#e6e6e6"></div>
<div class="g" style="left:609.72px;top:400.25px;width:1.92px;height:426.06px;background:#d4d4d4"></div>
<div class="g" style="left:771.41px;top:400.25px;width:1.92px;height:426.06px;background:#d4d4d4"></div>
<div class="g" style="left:951.4px;top:400.25px;width:1.92px;height:427.07px;background:#e6e6e6"></div>
<div class="g" style="left:48.5px;top:1425.48px;width:959.7px;height:1.01px;background:#e4747a"></div>
<div class="t f6 fr" style="left:57.2px;top:1434.15px">Tanggal Cetak</div>
<div class="t f6" style="left:153.3px;top:1434.15px">21/07/2021 12:19:06 WIB</div>
<div class="t f6 fr" style="left:314px;top:1434.15px">Dicetak Oleh</div>
<div class="t f6" style="left:400.7px;top:1434.15px">waspada@bprbkkboyolali.co.id</div>
<div class="t f6" style="left:910.5px;top:1434.15px">1</div>
<div class="t f6" style="left:930.7px;top:1435.15px">dari</div>
<div class="t f6" style="left:962.5px;top:1435.15px">1</div>
</section>
</body></html>
